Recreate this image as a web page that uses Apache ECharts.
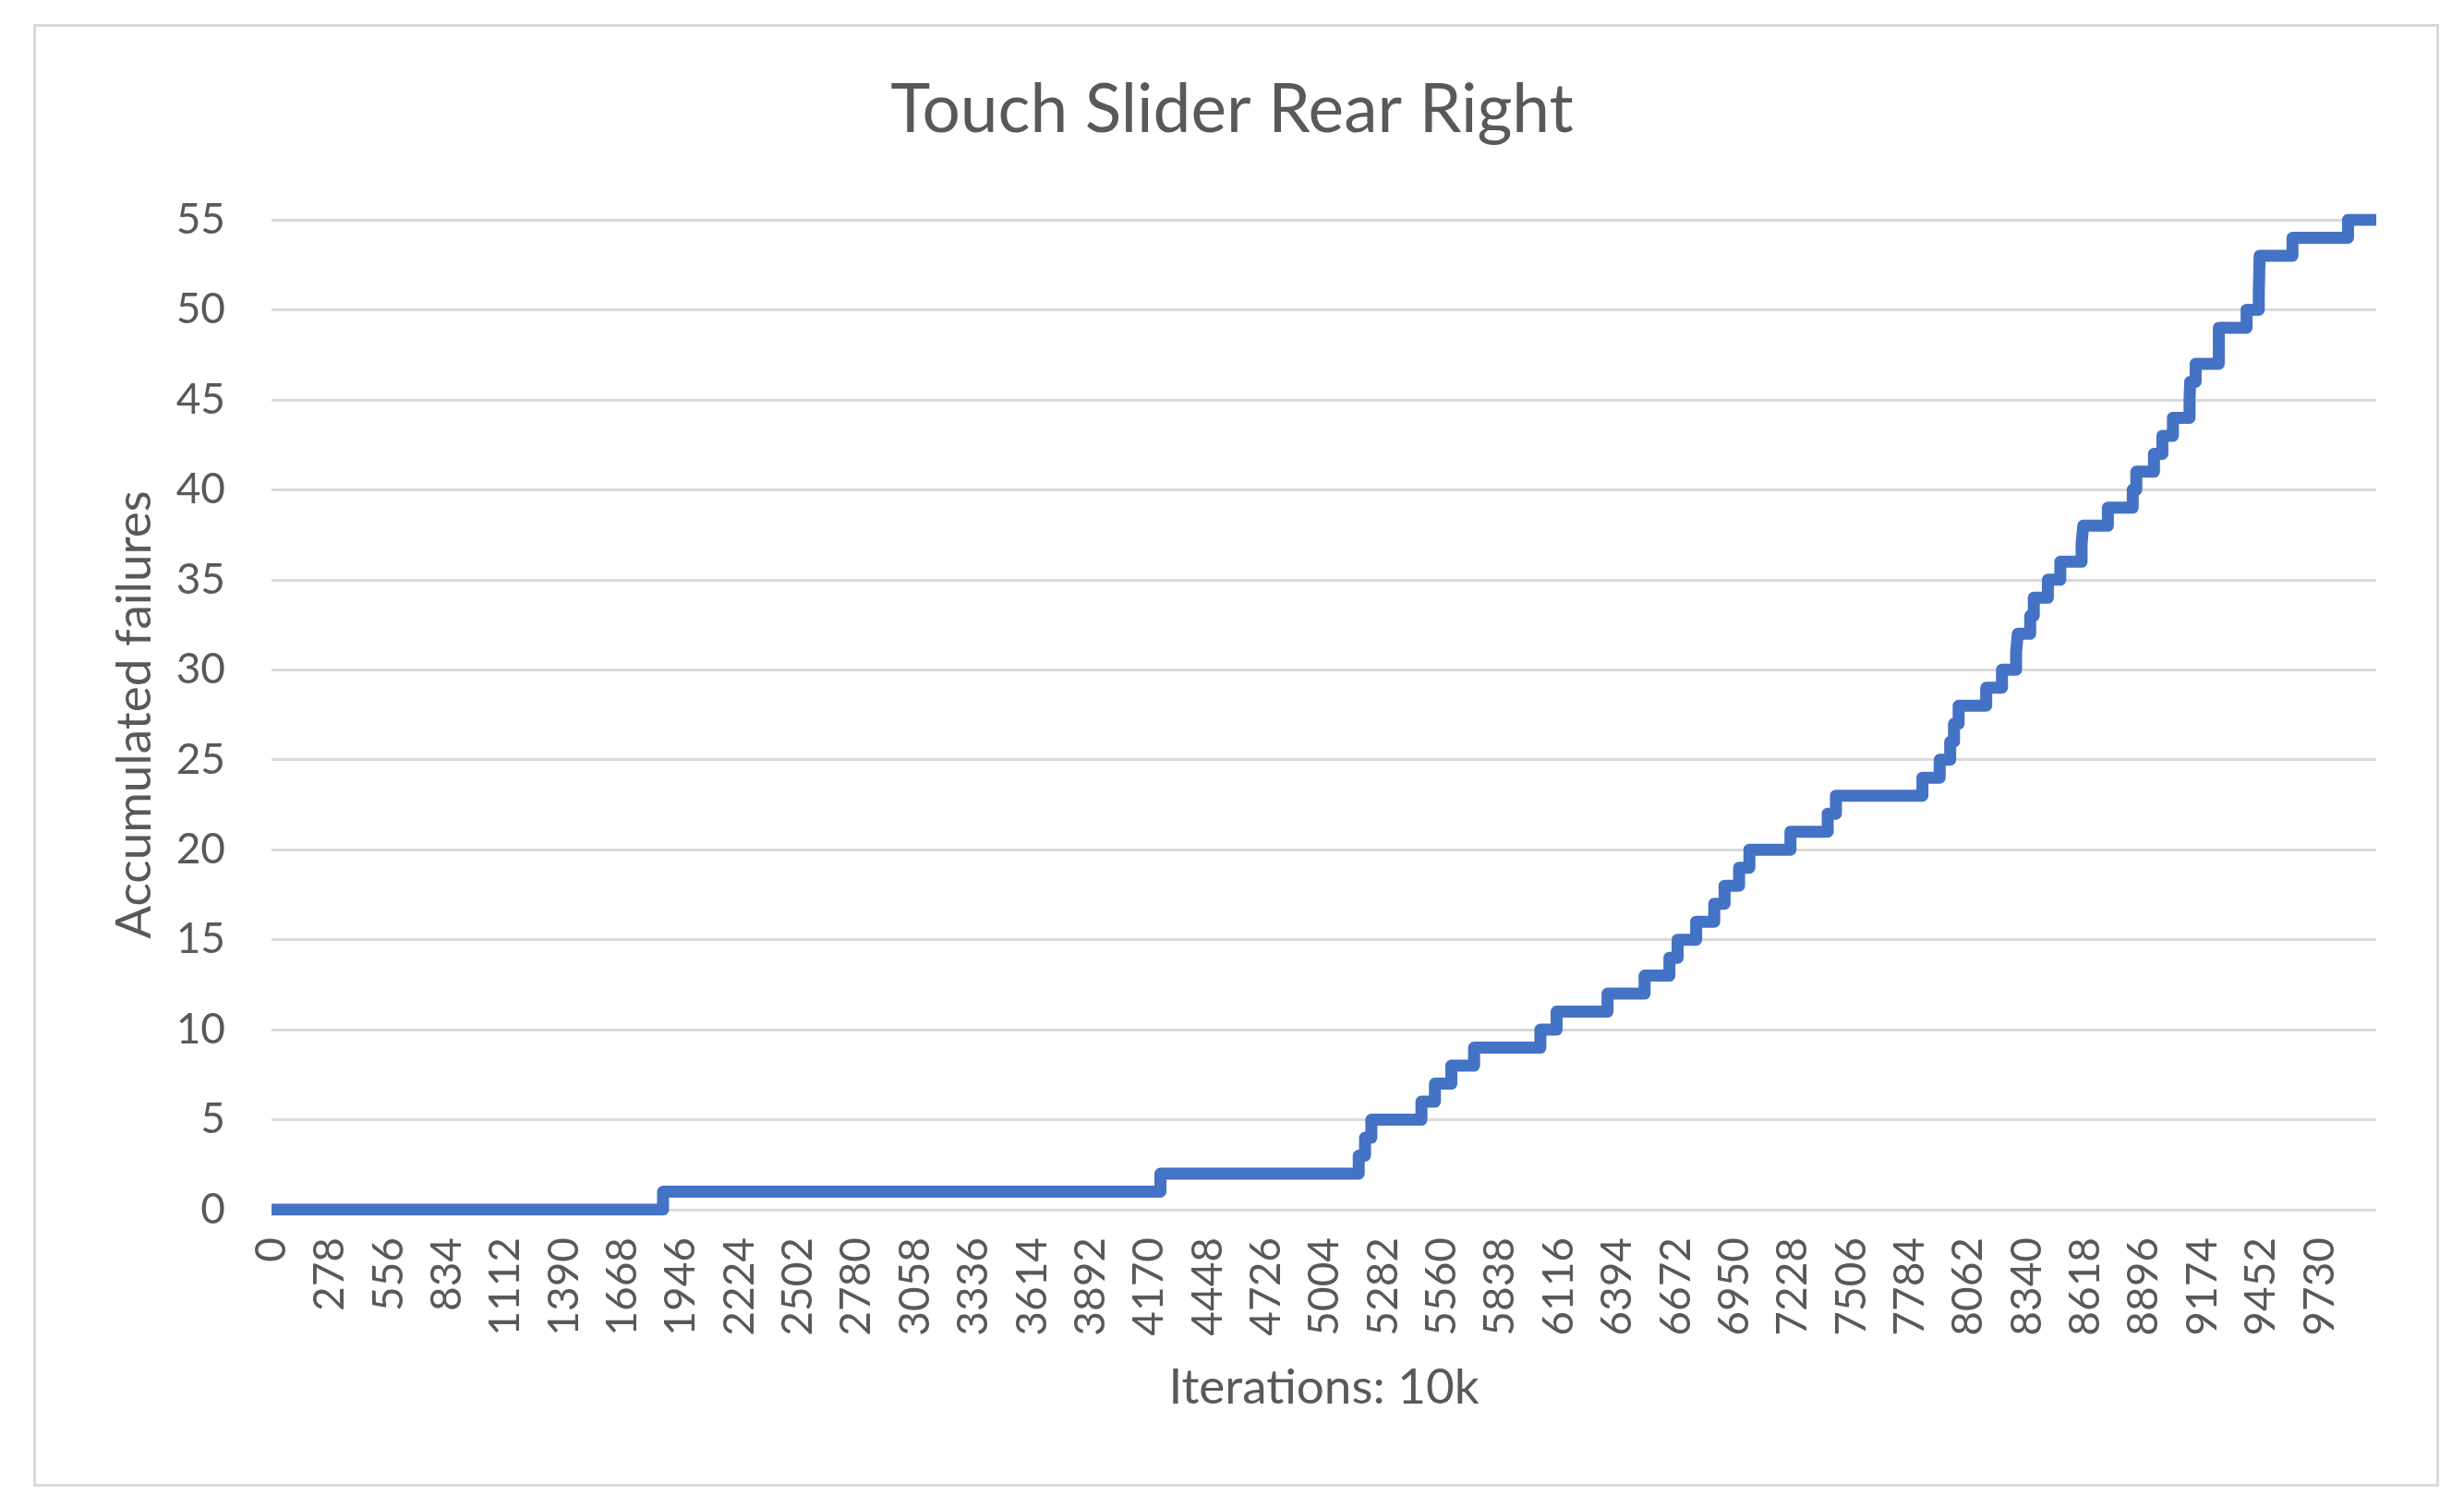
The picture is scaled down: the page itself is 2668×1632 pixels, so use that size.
<!DOCTYPE html>
<html>
<head>
<meta charset="utf-8">
<script src="https://cdn.jsdelivr.net/npm/echarts@6/dist/echarts.min.js"></script>
<style>
  html, body { margin: 0; padding: 0; background: #ffffff; }
  #chart { width: 2668px; height: 1632px; }
</style>
</head>
<body>
<div id="chart"></div>
<script>
// Iteration at which the accumulated failure count changes, and the new count
const stepIterations = [0, 1860, 4223, 5165, 5195, 5225, 5463, 5527, 5605, 5713,
  6028, 6105, 6347, 6523, 6641, 6680, 6768, 6854, 6903, 6972,
  7021, 7216, 7393, 7432, 7843, 7925, 7975, 7993, 8015, 8146,
  8221, 8288, 8296, 8355, 8372, 8439, 8498, 8599, 8607, 8724,
  8842, 8859, 8943, 8983, 9033, 9112, 9115, 9141, 9251, 9383,
  9441, 9443, 9445, 9601, 9865, 9999];
const accumulatedFailures = [0, 1, 2, 3, 4, 5, 6, 7, 8, 9,
  10, 11, 12, 13, 14, 15, 16, 17, 18, 19,
  20, 21, 22, 23, 24, 25, 26, 27, 28, 29,
  30, 31, 32, 33, 34, 35, 36, 37, 38, 39,
  40, 41, 42, 43, 44, 45, 46, 47, 49, 50,
  51, 52, 53, 54, 55, 55];

const titleText = 'Touch Slider Rear Right';
const xAxisTitle = 'Iterations: 10k';
const yAxisTitle = 'Accumulated failures';
const xTickStep = 278;
const xMax = 9999;
const yTickStep = 5;
const yMax = 55;

const FONT = 'Lato, "Open Sans", sans-serif';
const TEXT = '#595959';
const GRID = '#d9d9d9';

const chart = echarts.init(document.getElementById('chart'), null, { renderer: 'canvas' });
const seriesData = stepIterations.map((x, i) => [x, accumulatedFailures[i]]);

chart.setOption({
  backgroundColor: '#ffffff',
  animation: false,
  graphic: [{
    type: 'rect',
    left: 35, top: 25,
    shape: { width: 2602, height: 1581 },
    style: { fill: 'none', stroke: GRID, lineWidth: 3 },
    silent: true
  }],
  title: {
    text: titleText,
    left: 'center',
    top: 78,
    textStyle: { fontFamily: FONT, fontSize: 73, fontWeight: 'normal', color: TEXT }
  },
  grid: { left: 294, right: 95, top: 238, bottom: 322 },
  xAxis: {
    type: 'value',
    min: 0,
    max: xMax,
    interval: xTickStep,
    name: xAxisTitle,
    nameLocation: 'middle',
    nameGap: 166,
    nameTextStyle: { fontFamily: FONT, fontSize: 53, color: TEXT },
    axisLine: { show: false },
    axisTick: { show: false },
    splitLine: { show: false },
    axisLabel: {
      rotate: 90,
      margin: 30,
      showMaxLabel: false,
      formatter: (v) => String(v),
      fontFamily: FONT,
      fontSize: 46,
      color: TEXT
    }
  },
  yAxis: {
    type: 'value',
    min: 0,
    max: yMax,
    interval: yTickStep,
    name: yAxisTitle,
    nameLocation: 'middle',
    nameGap: 122,
    nameTextStyle: { fontFamily: FONT, fontSize: 53, color: TEXT },
    axisLine: { show: false },
    axisTick: { show: false },
    splitLine: { show: true, lineStyle: { color: GRID, width: 3 } },
    axisLabel: { margin: 50, fontFamily: FONT, fontSize: 46, color: TEXT }
  },
  series: [{
    type: 'line',
    step: 'end',
    data: seriesData,
    symbol: 'none',
    lineStyle: { color: '#4472C4', width: 13, cap: 'butt', join: 'round' }
  }]
});
</script>
</body>
</html>
